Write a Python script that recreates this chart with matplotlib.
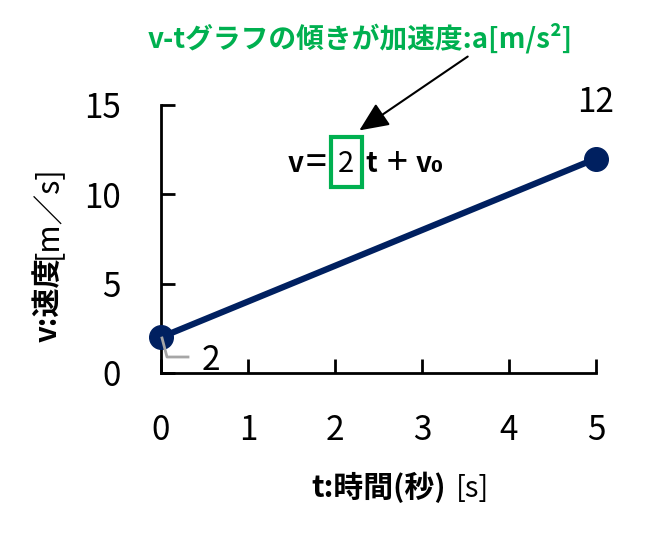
import matplotlib
matplotlib.use("Agg")
import matplotlib.pyplot as plt
from matplotlib.patches import Rectangle

t_vals = [0, 5]
v_vals = [2, 12]
x_ticks = [0, 1, 2, 3, 4, 5]
y_ticks = [0, 5, 10, 15]
point_labels = ["2", "12"]

plt.rcParams['font.family'] = ['Noto Sans CJK JP', 'DejaVu Sans']

W, H = 665, 534
fig = plt.figure(figsize=(W / 100, H / 100), dpi=100)
ax = fig.add_axes([161 / W, 1 - 373 / H, 435 / W, 268 / H])
navy = '#002060'
green = '#00B050'

def fx(px):
    return px / W

def fy(py):
    return 1 - py / H

ax.plot(t_vals, v_vals, color=navy, lw=4.5, marker='o', markersize=17, clip_on=False, zorder=3)
ax.set_xlim(0, 5)
ax.set_ylim(0, 15)
ax.set_xticks(x_ticks)
ax.set_yticks(y_ticks)
ax.tick_params(direction='in', length=10, width=2, labelsize=24, pad=29)
for s in ['top', 'right']:
    ax.spines[s].set_visible(False)
for s in ['left', 'bottom']:
    ax.spines[s].set_linewidth(2)

# axis titles (bold part + regular bracket part), anchored on baseline
fig.text(fx(311), fy(497), 't:時間(秒)', fontsize=21.5, fontweight='bold',
         ha='left', va='baseline')
fig.text(fx(456), fy(497), '[s]', fontsize=21, ha='left', va='baseline')
fig.text(fx(57), fy(342), 'v:速度', fontsize=21, fontweight='bold', rotation=90,
         rotation_mode='anchor', ha='left', va='baseline')
fig.text(fx(57), fy(259), '[m／s]', fontsize=22, rotation=90,
         rotation_mode='anchor', ha='left', va='baseline')

# data labels
fig.text(fx(211), fy(360), point_labels[0], fontsize=24, ha='center', va='center')
fig.add_artist(plt.Line2D([fx(162), fx(167), fx(188)], [fy(338), fy(357), fy(357)],
                          color='#A6A6A6', lw=2))
ax.annotate(point_labels[1], xy=(t_vals[1], v_vals[1]), xytext=(0, 28), textcoords='offset points',
            fontsize=24, ha='center', va='bottom')

# equation (baseline aligned)
yb = fy(172)
fig.text(fx(288), yb, 'v', fontsize=20, fontweight='bold', ha='left', va='baseline')
fig.text(fx(316), fy(174), '=', fontsize=27, ha='center', va='baseline')
fig.text(fx(346), yb, '2', fontsize=21, ha='center', va='baseline')
fig.text(fx(365), yb, 't', fontsize=20, fontweight='bold', ha='left', va='baseline')
fig.text(fx(397), fy(174), '+', fontsize=27, ha='center', va='baseline')
fig.text(fx(416), yb, 'v₀', fontsize=20, fontweight='bold', ha='left', va='baseline')
fig.add_artist(Rectangle((fx(331), fy(187)), 31 / W, 50 / H, transform=fig.transFigure,
                         fill=False, edgecolor=green, lw=3))

fig.text(fx(360), fy(38), 'v-tグラフの傾きが加速度:a[m/s²]', fontsize=20, fontweight='bold',
         color=green, ha='center', va='center')
ax.annotate('', xy=(357, H - 132), xytext=(470, H - 55), xycoords='figure pixels', textcoords='figure pixels',
            arrowprops=dict(arrowstyle='-|>,head_length=1.8,head_width=0.8', color='black', lw=1.5))

fig.savefig('out.png', dpi=100)
